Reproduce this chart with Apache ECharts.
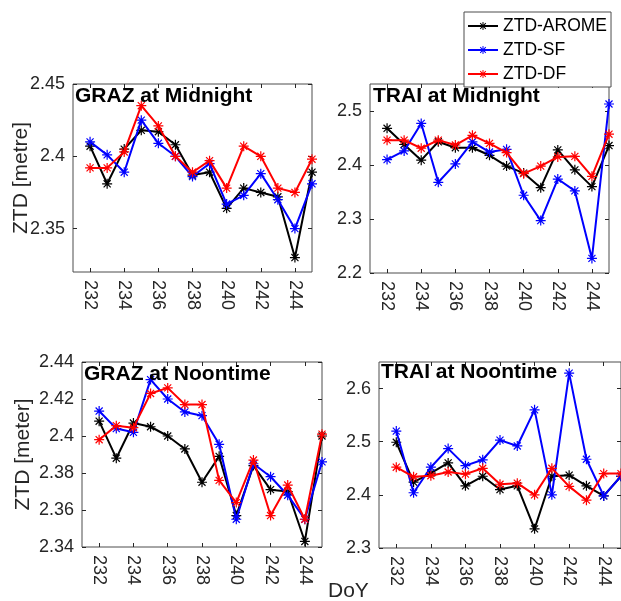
<!DOCTYPE html>
<html>
<head>
<meta charset="utf-8">
<script src="https://cdn.jsdelivr.net/npm/echarts@6/dist/echarts.min.js"></script>
<style>html,body{margin:0;padding:0;background:#fff;}#c{width:621px;height:601px;}</style>
</head>
<body>
<div id="c"></div>
<script>
// ---- data ----
const days = [232,233,234,235,236,237,238,239,240,241,242,243,244,245];
const xTicks = [232,234,236,238,240,242,244];
const seriesNames = ['ZTD-AROME','ZTD-SF','ZTD-DF'];

const grazMidAROME = [2.407,2.381,2.405,2.418,2.417,2.408,2.387,2.389,2.364,2.378,2.375,2.372,2.330,2.389];
const grazMidSF    = [2.410,2.401,2.389,2.425,2.409,2.400,2.386,2.395,2.367,2.373,2.388,2.370,2.350,2.381];
const grazMidDF    = [2.392,2.392,2.403,2.435,2.421,2.400,2.389,2.397,2.378,2.407,2.400,2.378,2.375,2.398];

const traiMidAROME = [2.468,2.438,2.409,2.443,2.432,2.432,2.418,2.398,2.385,2.358,2.428,2.391,2.360,2.436];
const traiMidSF    = [2.410,2.426,2.477,2.368,2.402,2.443,2.424,2.429,2.344,2.297,2.374,2.352,2.227,2.513];
const traiMidDF    = [2.446,2.446,2.431,2.446,2.437,2.455,2.440,2.423,2.384,2.398,2.415,2.416,2.379,2.457];

const grazNoonAROME = [2.408,2.388,2.407,2.405,2.400,2.393,2.375,2.389,2.357,2.384,2.371,2.370,2.343,2.400];
const grazNoonSF    = [2.4135,2.404,2.402,2.4305,2.420,2.413,2.411,2.3955,2.355,2.385,2.378,2.368,2.355,2.386];
const grazNoonDF    = [2.398,2.4056,2.4045,2.423,2.426,2.417,2.417,2.376,2.364,2.387,2.357,2.3735,2.355,2.401];

const traiNoonAROME = [2.499,2.424,2.441,2.460,2.417,2.435,2.410,2.417,2.336,2.435,2.437,2.417,2.398,2.435];
const traiNoonSF    = [2.520,2.404,2.452,2.487,2.455,2.466,2.503,2.492,2.560,2.400,2.629,2.467,2.398,2.435];
const traiNoonDF    = [2.452,2.434,2.436,2.443,2.439,2.450,2.420,2.422,2.400,2.450,2.416,2.390,2.440,2.440];

const yTicksGrazMid  = [2.35,2.4,2.45];
const yTicksTraiMid  = [2.2,2.3,2.4,2.5];
const yTicksGrazNoon = [2.34,2.36,2.38,2.4,2.42,2.44];
const yTicksTraiNoon = [2.3,2.4,2.5,2.6];

const panelTitles = ['GRAZ at Midnight','TRAI at Midnight','GRAZ at Noontime','TRAI at Noontime'];
const yNames = ['ZTD [metre]','','ZTD [meter]',''];
const xName = 'DoY';

// ---- layout / style ----
const FONT = '"Liberation Sans", Arial, sans-serif';
const TXT = '#262626';
const colors = ['#000000','#0000ff','#ff0000'];
const ASTER = 'path://M-1.2,-10L1.2,-10L1.2,10L-1.2,10Z M-10,-1.2L10,-1.2L10,1.2L-10,1.2Z M-6.2,-7.9L7.9,6.2L6.2,7.9L-7.9,-6.2Z M-7.9,6.2L6.2,-7.9L7.9,-6.2L-6.2,7.9Z';

const panels = [
  {grid:{left:73, top:84, width:239, height:188}, ymin:2.32, ymax:2.45, yt:yTicksGrazMid, data:[grazMidAROME,grazMidSF,grazMidDF], title:[75,86], nameGap:41},
  {grid:{left:370, top:84, width:239, height:189}, ymin:2.2, ymax:2.55, yt:yTicksTraiMid, data:[traiMidAROME,traiMidSF,traiMidDF], title:[373,86]},
  {grid:{left:82, top:362, width:240, height:185}, ymin:2.34, ymax:2.44, yt:yTicksGrazNoon, data:[grazNoonAROME,grazNoonSF,grazNoonDF], title:[84,364], nameGap:48},
  {grid:{left:379, top:362, width:248, height:186}, ymin:2.3, ymax:2.65, yt:yTicksTraiNoon, data:[traiNoonAROME,traiNoonSF,traiNoonDF], title:[381,362]}
];

const grids=[], xAxes=[], yAxes=[], series=[], titles=[];
const fmt = v => String(+(+v).toFixed(2));
panels.forEach((p, k) => {
  grids.push(Object.assign({show:true, borderColor:'#4d4d4d', borderWidth:1, backgroundColor:'#fff', containLabel:false}, p.grid));
  const baseX = {type:'value', gridIndex:k, min:231, max:245,
    axisLine:{show:false}, splitLine:{show:false}};
  xAxes.push(Object.assign({}, baseX, {position:'bottom',
    axisTick:{show:true, inside:true, length:4, lineStyle:{color:TXT}, customValues:xTicks},
    axisLabel:{show:true, rotate:-90, margin:8, fontSize:18, fontFamily:FONT, color:TXT, customValues:xTicks}}));
  xAxes.push(Object.assign({}, baseX, {position:'top',
    axisTick:{show:true, inside:true, length:4, lineStyle:{color:TXT}, customValues:xTicks},
    axisLabel:{show:false}}));
  const baseY = {type:'value', gridIndex:k, min:p.ymin, max:p.ymax, axisLine:{show:false}, splitLine:{show:false}};
  yAxes.push(Object.assign({}, baseY, {position:'left',
    name: yNames[k], nameLocation:'middle', nameRotate:90, nameGap:p.nameGap||40, nameMoveOverlap:false,
    nameTextStyle:{fontSize:21, fontFamily:FONT, color:TXT},
    axisTick:{show:true, inside:true, length:4, lineStyle:{color:TXT}, customValues:p.yt},
    axisLabel:{show:true, margin:8, fontSize:18, fontFamily:FONT, color:TXT, customValues:p.yt, formatter:fmt}}));
  yAxes.push(Object.assign({}, baseY, {position:'right',
    axisTick:{show:true, inside:true, length:4, lineStyle:{color:TXT}, customValues:p.yt},
    axisLabel:{show:false}}));
  p.data.forEach((arr, s) => {
    series.push({
      type:'line', name:seriesNames[s], xAxisIndex:2*k, yAxisIndex:2*k,
      data: days.map((d,i)=>[d, arr[i]]),
      symbol:ASTER, symbolSize:10, showAllSymbol:true,
      lineStyle:{width:2, color:colors[s]},
      itemStyle:{color:colors[s]},
      emphasis:{disabled:true}, animation:false, z:2+s
    });
  });
  titles.push({text:panelTitles[k], left:p.title[0], top:p.title[1], padding:0,
    textStyle:{fontSize:21, fontWeight:'bold', fontFamily:FONT, color:'#000'}});
});
titles.push({text:xName, left:328, top:581, padding:0, textStyle:{fontSize:21, fontWeight:'normal', fontFamily:FONT, color:TXT}});

const chart = echarts.init(document.getElementById('c'), null, {renderer:'canvas'});
chart.setOption({
  animation:false,
  backgroundColor:'#fff',
  title:titles,
  grid:grids, xAxis:xAxes, yAxis:yAxes, series:series,
  legend:{
    data:seriesNames, orient:'vertical', left:464, top:12,
    backgroundColor:'#fff', borderColor:'#4d4d4d', borderWidth:1,
    padding:[4,4,3,3], itemGap:4, itemWidth:30, itemHeight:10,
    textStyle:{fontSize:17.5, fontFamily:FONT, color:'#000', lineHeight:20},
    selectedMode:false, z:10
  }
});
</script>
</body>
</html>
